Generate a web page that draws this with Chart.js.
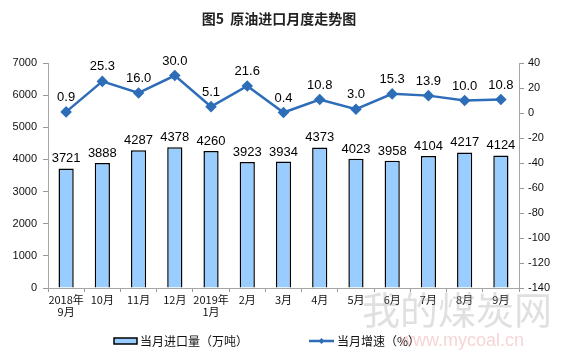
<!DOCTYPE html>
<html><head><meta charset="utf-8">
<script src="https://cdn.jsdelivr.net/npm/chart.js@4/dist/chart.umd.min.js"></script>
<style>html,body{margin:0;padding:0;background:#fff}#wrap{width:561px;height:357px;position:relative}</style>
</head><body><div id="wrap"><canvas id="c" width="561" height="357"></canvas></div>
<script>
const categories = [["2018年","9月"],"10月","11月","12月",["2019年","1月"],"2月","3月","4月","5月","6月","7月","8月","9月"];
const importVolume = [3721,3888,4287,4378,4260,3923,3934,4373,4023,3958,4104,4217,4124];
const growthRate = [0.9,25.3,16.0,30.0,5.1,21.6,0.4,10.8,3.0,15.3,13.9,10.0,10.8];
const leftTicks = [0,1000,2000,3000,4000,5000,6000,7000];
const rightTicks = [-140,-120,-100,-80,-60,-40,-20,0,20,40];
const titleText = "图5  原油进口月度走势图";
const barLegend = "当月进口量（万吨）";
const lineLegend = "当月增速（%）";

const BAR_COLOR = "#99CCFF", LINE_COLOR = "#2E6DB7";
const NUM_FONT = "13px 'Liberation Sans', Arial, sans-serif";
const CJK = "'Noto Sans CJK SC', 'Liberation Sans', sans-serif";

const extras = {
  id: "extras",
  afterDatasetsDraw(chart) {
    const ctx = chart.ctx;
    ctx.save();
    ctx.fillStyle = "#000";
    ctx.font = NUM_FONT;
    ctx.textAlign = "center";
    ctx.textBaseline = "alphabetic";
    chart.getDatasetMeta(0).data.forEach((el, i) => {
      ctx.fillText(String(importVolume[i]), el.x, el.y - 6);
    });
    chart.getDatasetMeta(1).data.forEach((el, i) => {
      ctx.fillText(growthRate[i].toFixed(1), el.x, el.y - 11);
    });
    // title
    ctx.font = "bold 14px " + CJK;
    ctx.textBaseline = "middle";
    ctx.fillStyle = "#222";
    ctx.fillText(titleText, 279, 19);
    // legend
    ctx.font = "12px " + CJK;
    ctx.textAlign = "left";
    ctx.fillStyle = BAR_COLOR;
    ctx.strokeStyle = "#000";
    ctx.lineWidth = 1.5;
    ctx.fillRect(114, 338, 23, 6);
    ctx.strokeRect(114, 338, 23, 6);
    ctx.fillStyle = "#111";
    ctx.fillText(barLegend, 140, 341);
    ctx.strokeStyle = LINE_COLOR;
    ctx.lineWidth = 2.5;
    ctx.beginPath(); ctx.moveTo(309, 341); ctx.lineTo(334, 341); ctx.stroke();
    ctx.fillStyle = LINE_COLOR;
    ctx.beginPath(); ctx.moveTo(321.5, 338); ctx.lineTo(324.5, 341); ctx.lineTo(321.5, 344); ctx.lineTo(318.5, 341); ctx.closePath(); ctx.fill();
    ctx.fillStyle = "#111";
    ctx.fillText(lineLegend, 337, 341);
    // watermark
    ctx.globalAlpha = 0.3;
    ctx.fillStyle = "#999";
    ctx.font = "38px " + CJK;
    ctx.fillText("我的煤炭网", 362, 310);
    ctx.fillStyle = "#e07070";
    ctx.font = "18px 'Liberation Sans', sans-serif";
    ctx.fillText("www.mycoal.cn", 400, 341);
    ctx.restore();
  }
};

new Chart(document.getElementById("c"), {
  data: {
    labels: categories,
    datasets: [
      { type: "bar", data: importVolume, yAxisID: "y", backgroundColor: BAR_COLOR, borderColor: "#000", borderWidth: 1.5, barPercentage: 0.42, categoryPercentage: 1, order: 2 },
      { type: "line", data: growthRate, yAxisID: "y1", borderColor: LINE_COLOR, borderWidth: 2.5, pointStyle: "rectRot", pointRadius: 4, pointBackgroundColor: LINE_COLOR, pointBorderColor: LINE_COLOR, tension: 0, order: 1 }
    ]
  },
  plugins: [extras],
  options: {
    responsive: false, animation: false,
    layout: { padding: { top: 63, left: 0, right: 0, bottom: 0 } },
    plugins: { legend: { display: false }, title: { display: false }, tooltip: { enabled: false } },
    scales: {
      x: {
        offset: true,
        grid: { display: true, drawOnChartArea: false, drawTicks: true, tickLength: 4, offset: true, color: "#999" },
        border: { color: "#A6A6A6" },
        ticks: { color: "#111", font: { size: 11, family: CJK, lineHeight: 1.1 }, maxRotation: 0, autoSkip: false, padding: 2 },
        afterFit(s) { s.height = 69; }
      },
      y: {
        position: "left", min: 0, max: 7000,
        afterBuildTicks(s) { s.ticks = leftTicks.map(v => ({ value: v })); },
        grid: { display: true, drawOnChartArea: false, tickLength: 5, color: "#999" },
        border: { color: "#A6A6A6" },
        ticks: { color: "#111", font: { size: 11, family: "'Liberation Sans', Arial, sans-serif" }, padding: 6, callback: v => String(v) },
        afterFit(s) { s.width = 48; }
      },
      y1: {
        position: "right", min: -140, max: 40,
        afterBuildTicks(s) { s.ticks = rightTicks.map(v => ({ value: v })); },
        grid: { display: true, drawOnChartArea: false, tickLength: 5, color: "#999" },
        border: { color: "#A6A6A6" },
        ticks: { color: "#111", font: { size: 11, family: "'Liberation Sans', Arial, sans-serif" }, padding: 4, callback: v => String(v) },
        afterFit(s) { s.width = 42; }
      }
    }
  }
});
</script></body></html>
